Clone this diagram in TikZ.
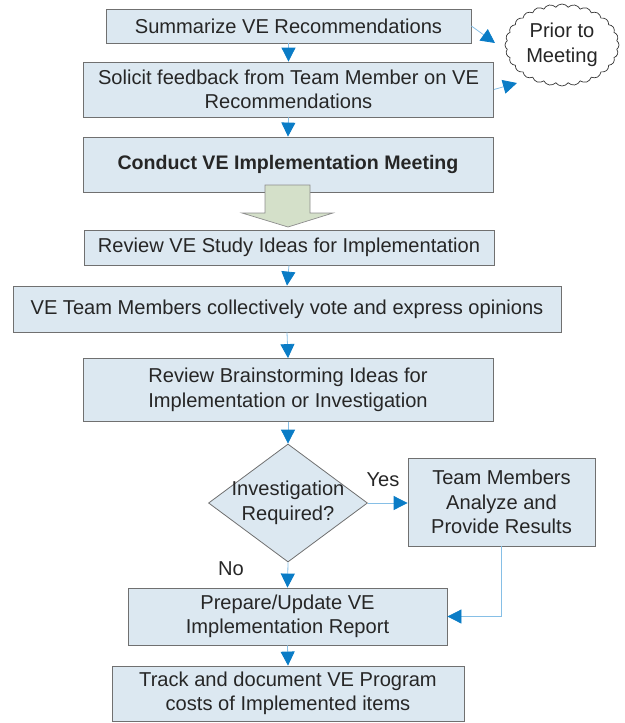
\documentclass[tikz,border=0pt]{standalone}
\usepackage{fontspec}
\setmainfont{Liberation Sans}
\usetikzlibrary{arrows.meta,shapes.geometric,shapes.symbols}
\definecolor{boxfill}{HTML}{DCE8F1}
\definecolor{boxline}{HTML}{707070}
\definecolor{tipblue}{HTML}{0A7CC6}
\definecolor{lineblue}{HTML}{86BFE6}
\definecolor{txt}{HTML}{262626}
\definecolor{bafill}{HTML}{D4E0C9}
\begin{document}
\begin{tikzpicture}[x=1pt,y=-1pt,
  fnt/.style={font=\fontsize{20.1}{24.5}\selectfont,text=txt},
  box/.style={fnt,draw=boxline,fill=boxfill,line width=0.8pt,align=center,inner sep=0pt},
  conn/.style={draw=lineblue,line width=0.8pt,-{Triangle[width=14pt,length=14pt,color=tipblue]}},
  ]
\useasboundingbox (0,0) rectangle (624,723);
\node[box,minimum width=365pt,minimum height=34pt] (b1) at (288.5,26) {Summarize VE Recommendations};
\node[box,minimum width=410pt,minimum height=55pt] (b2) at (288.5,89.5) {Solicit feedback from Team Member on VE\\Recommendations};
\node[box,minimum width=410pt,minimum height=55pt,font=\fontsize{19.6}{24.5}\selectfont\bfseries] (b3) at (288,164.5) {Conduct VE Implementation Meeting};
\node[box,minimum width=410pt,minimum height=35pt] (b4) at (289,247.5) {Review VE Study Ideas for Implementation};
\node[box,minimum width=548pt,minimum height=46pt] (b5) at (287,309) {VE Team Members collectively vote and express opinions};
\node[box,minimum width=410pt,minimum height=63pt] (b6) at (288,390) {Review Brainstorming Ideas for\\Implementation or Investigation};
\node[box,diamond,minimum width=159pt,minimum height=118pt] (dia) at (288,503) {};
\node[fnt,align=center] (diatext) at (dia.center) {Investigation\\Required?};
\node[box,minimum width=187pt,minimum height=88pt] (team) at (501.5,502) {Team Members\\Analyze and\\Provide Results};
\node[box,minimum width=319pt,minimum height=57pt] (b7) at (287.5,616.5) {Prepare/Update VE\\Implementation Report};
\node[box,minimum width=352pt,minimum height=55pt] (b8) at (288,693.5) {Track and document VE Program\\costs of Implemented items};
\node[cloud,fnt,draw=black!80,fill=white,line width=0.7pt,cloud puffs=28,cloud puff arc=110,
      minimum width=114pt,minimum height=82pt,cloud ignores aspect,inner sep=0pt,align=center] (cl) at (562,45) {Prior to\\Meeting};
\node[fnt] (yes) at (383,480) {Yes};
\node[fnt] (no) at (231,569) {No};
% block arrow
\draw[draw=boxline!80,fill=bafill,line width=0.7pt]
  (265,185) -- (310,185) -- (310,213) -- (333,213) -- (288,227) -- (242,213) -- (265,213) -- cycle;
% connectors
\coordinate (c1) at (495,43);
\coordinate (c2) at (517,83);
\draw[conn] (b1.south) -- (b2.north);
\draw[conn] (b2.south) -- (b3.north);
\draw[conn] (b1.east) -- (c1);
\draw[conn] (b2.east) -- (c2);
\draw[conn] (b4.south) -- (b5.north);
\draw[conn] (b5.south) -- (b6.north);
\draw[conn] (b6.south) -- (dia.north);
\draw[conn] (dia.east) -- (dia.east -| team.west);
\draw[conn] (dia.south) -- (b7.north);
\draw[conn] (team.south) |- (b7.east);
\draw[conn] (b7.south) -- (b8.north);
\end{tikzpicture}
\end{document}
